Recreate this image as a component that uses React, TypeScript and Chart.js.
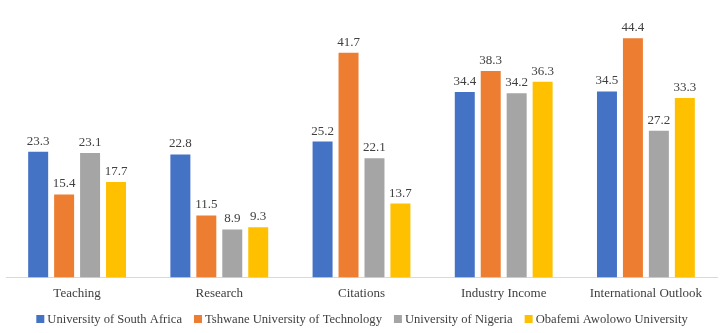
import React, { useEffect, useRef } from "react";
import { Chart, registerables } from "chart.js";

Chart.register(...registerables);

const categories = ["Teaching", "Research", "Citations", "Industry Income", "International Outlook"];
const seriesNames = [
  "University of South Africa",
  "Tshwane University of Technology",
  "University of Nigeria",
  "Obafemi Awolowo University",
];
const southAfrica = [23.3, 22.8, 25.2, 34.4, 34.5];
const tshwane = [15.4, 11.5, 41.7, 38.3, 44.4];
const nigeria = [23.1, 8.9, 22.1, 34.2, 27.2];
const obafemi = [17.7, 9.3, 13.7, 36.3, 33.3];
const colors = ["#4472C4", "#ED7D31", "#A5A5A5", "#FFC000"];

const FONT = "'Liberation Serif', 'DejaVu Serif', serif";

const labelPlugin = {
  id: "barLabels",
  afterDatasetsDraw(chart: any) {
    const ctx = chart.ctx;
    ctx.save();
    ctx.font = `13px ${FONT}`;
    ctx.fillStyle = "#404040";
    ctx.textAlign = "center";
    ctx.textBaseline = "bottom";
    chart.data.datasets.forEach((ds: any, i: number) => {
      const meta = chart.getDatasetMeta(i);
      meta.data.forEach((el: any, j: number) => {
        ctx.fillText(ds.data[j].toFixed(1), el.x, el.y - 4);
      });
    });
    ctx.restore();
  },
};

const legendPlugin = {
  id: "customLegend",
  afterDraw(chart: any) {
    const ctx = chart.ctx;
    ctx.save();
    ctx.font = `12.6px ${FONT}`;
    ctx.textBaseline = "middle";
    ctx.textAlign = "left";
    const box = 8;
    const gapBox = 3;
    const gapItem = 12;
    const items = chart.data.datasets.map((ds: any) => ({
      text: ds.label,
      color: ds.backgroundColor,
      w: ctx.measureText(ds.label).width,
    }));
    const total =
      items.reduce((s: number, it: any) => s + box + gapBox + it.w, 0) + gapItem * (items.length - 1);
    let x = chart.width / 2 - total / 2;
    const y = chart.height - 14;
    items.forEach((it: any) => {
      ctx.fillStyle = it.color;
      ctx.fillRect(x, y - box / 2, box, box);
      x += box + gapBox;
      ctx.fillStyle = "#404040";
      ctx.fillText(it.text, x, y + 1);
      x += it.w + gapItem;
    });
    ctx.restore();
  },
};

export default function App() {
  const ref = useRef<HTMLCanvasElement>(null);
  useEffect(() => {
    document.body.style.margin = "0";
    const all = [southAfrica, tshwane, nigeria, obafemi];
    const chart = new Chart(ref.current!, {
      type: "bar",
      data: {
        labels: categories,
        datasets: all.map((d, i) => ({
          label: seriesNames[i],
          data: d,
          backgroundColor: colors[i],
          categoryPercentage: 0.73,
          barPercentage: 0.77,
        })),
      },
      options: {
        animation: false,
        responsive: false,
        maintainAspectRatio: false,
        layout: { padding: { left: 6, right: 7, top: 8, bottom: 24 } },
        plugins: {
          legend: { display: false },
          tooltip: { enabled: false },
        },
        scales: {
          x: {
            grid: { display: false, drawTicks: false },
            border: { color: "#D9D9D9" },
            ticks: { font: { family: FONT, size: 13 }, color: "#404040", padding: 8 },
          },
          y: {
            display: false,
            min: 0,
            max: 50,
          },
        },
      },
      plugins: [labelPlugin, legendPlugin],
    });
    return () => chart.destroy();
  }, []);
  return <canvas ref={ref} width={724} height={333} style={{ display: "block" }} />;
}
